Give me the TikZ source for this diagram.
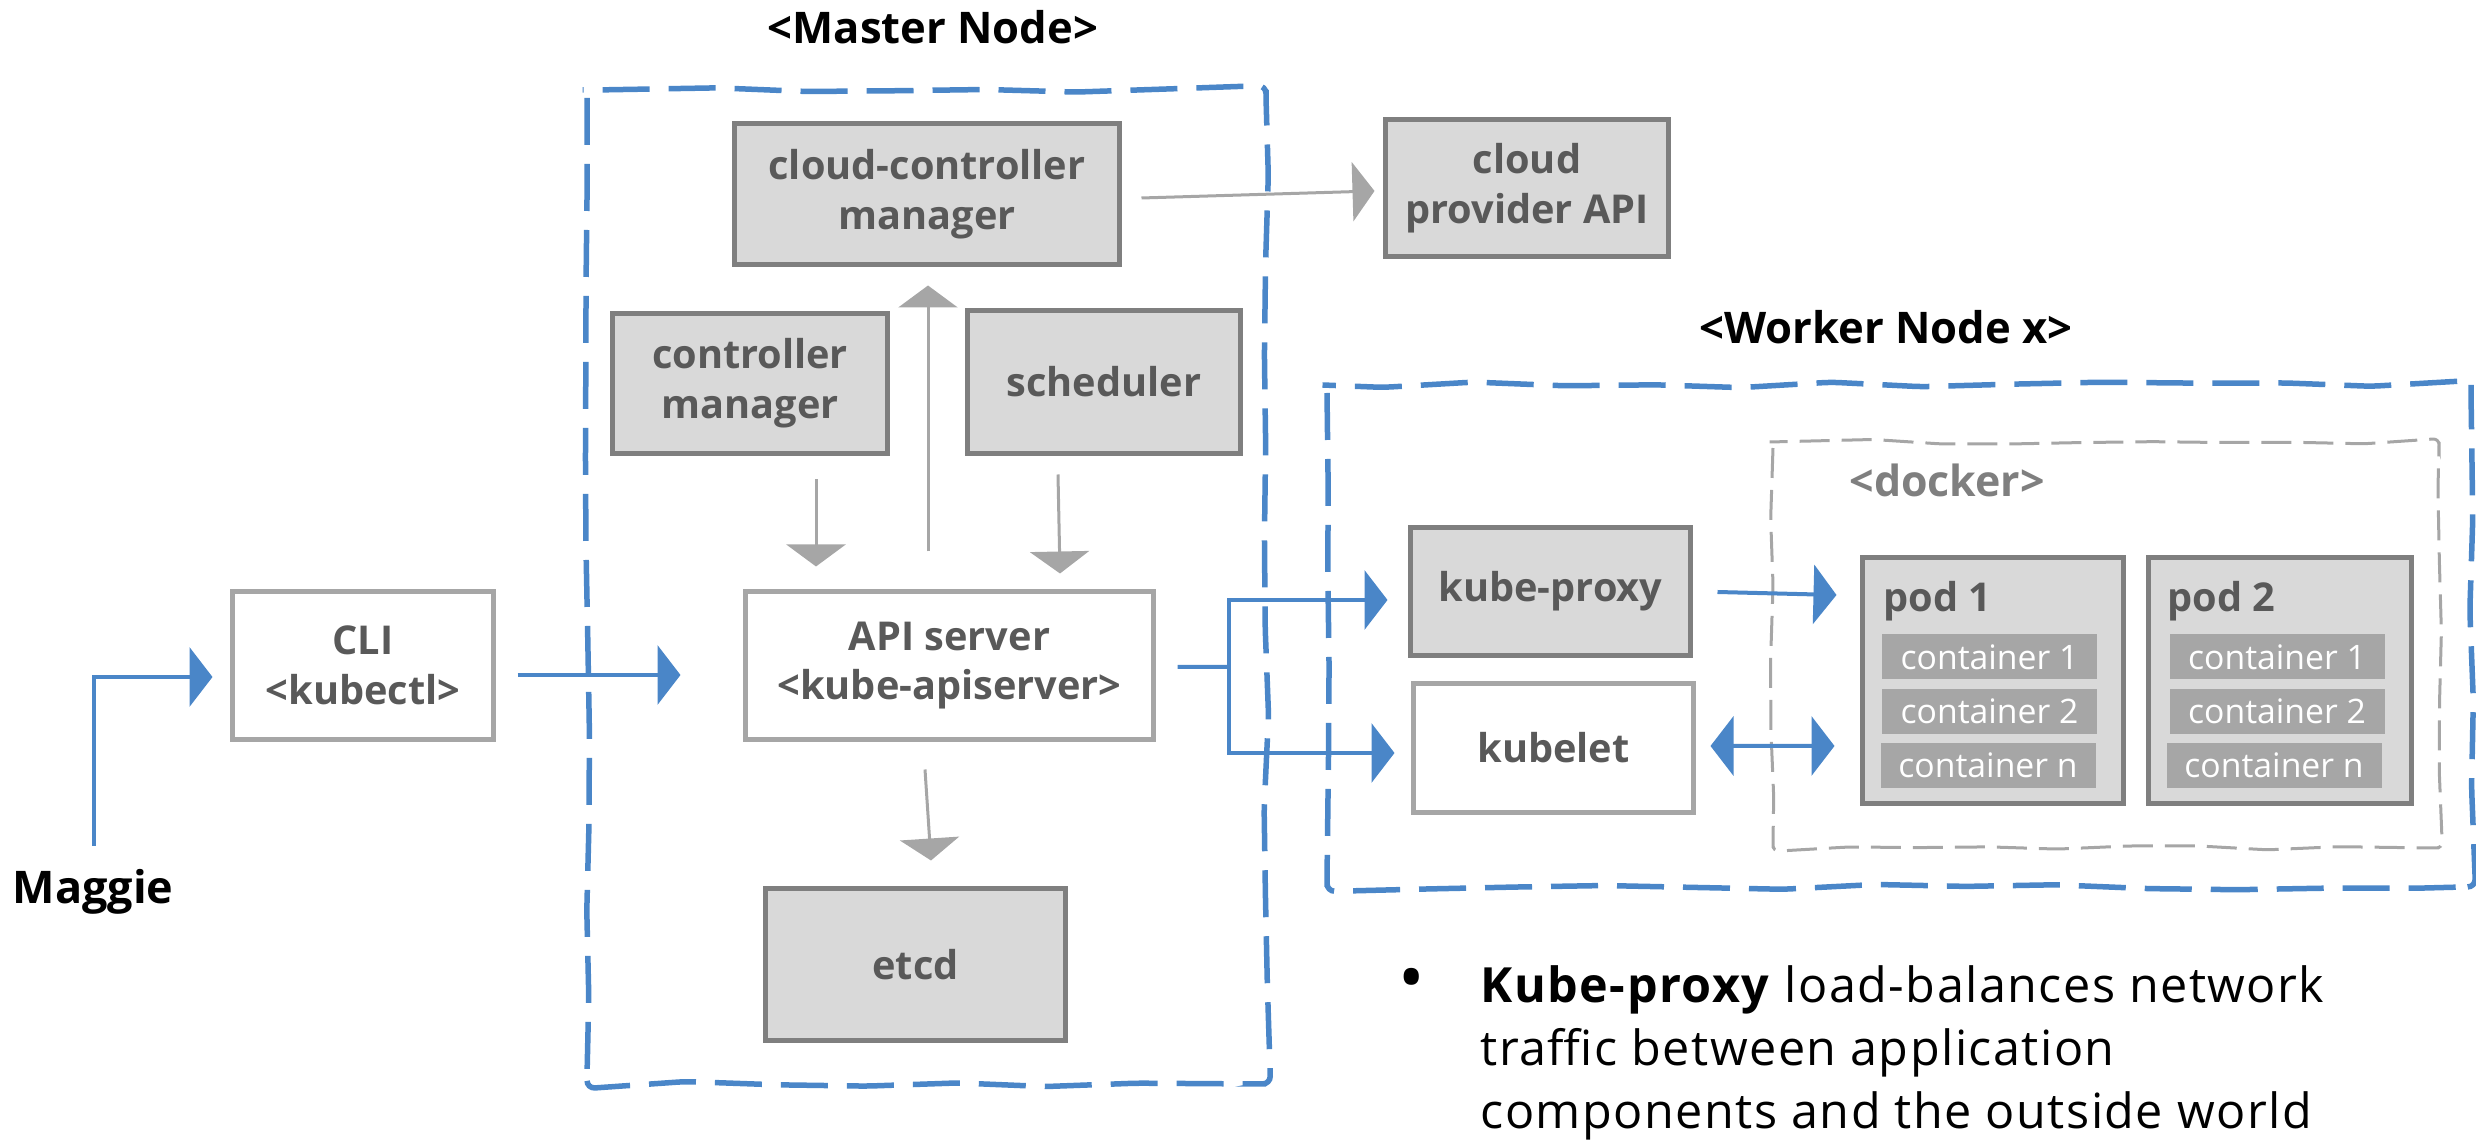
\documentclass[tikz,border=0pt]{standalone}
\usepackage{fontspec}
\setmainfont{Open Sans}
\newcommand\semib{\bfseries}
\usetikzlibrary{arrows.meta,calc,decorations.pathmorphing}
\definecolor{kblue}{RGB}{74,134,200}
\definecolor{boxgray}{RGB}{217,217,217}
\definecolor{darkedge}{RGB}{127,127,127}
\definecolor{lightedge}{RGB}{166,166,166}
\definecolor{txtgray}{RGB}{89,89,89}
\newcommand\boxfont{\semib\fontsize{11.3}{14.2}\selectfont}
\newcommand\contfont{\fontsize{9.6}{11}\selectfont}
\newcommand\titlefont{\bfseries\fontsize{12.4}{14}\selectfont}
\newcommand\bulfont{\fontsize{13.8}{16}\selectfont\addfontfeature{LetterSpace=3}}
\pgfmathsetseed{11}
\begin{document}
\begin{tikzpicture}[x=0.1mm,y=-0.1mm,
  gbox/.style={draw=darkedge,fill=boxgray,line width=0.5mm,inner sep=0pt,text=txtgray,font=\boxfont,align=center},
  wbox/.style={draw=lightedge,fill=white,line width=0.5mm,inner sep=0pt,text=txtgray,font=\boxfont,align=center},
  cont/.style={fill=lightedge,text=white,font=\contfont,inner sep=0pt,minimum width=21.5mm,minimum height=4.5mm},
  garrow/.style={draw=lightedge,line width=0.3mm,-{Triangle[width=5.9mm,length=2.2mm]}},
  barrow/.style={draw=kblue,line width=0.4mm,-{Triangle[width=5.9mm,length=2.3mm]}},
  bline/.style={draw=kblue,line width=0.4mm},
  bluedash/.style={draw=kblue,line width=0.55mm,dash pattern=on 4.7mm off 1.9mm,
    decorate,decoration={random steps,segment length=9mm,amplitude=0.3mm},rounded corners=0.8mm},
  graydash/.style={draw=lightedge,line width=0.3mm,dash pattern=on 3mm off 1.2mm,
    decorate,decoration={random steps,segment length=7mm,amplitude=0.25mm},rounded corners=0.6mm}]
\useasboundingbox (0,0) rectangle (2476,1140);

% dashed containers
\draw[bluedash] (587,90) rectangle (1266,1084);
\draw[bluedash] (1327,385) rectangle (2471,887);
\draw[graydash] (1773,442) rectangle (2439,848);

% titles
\node[font=\titlefont,anchor=base] (mlabel) at (933,44) {<Master Node>};
\node[font=\titlefont,anchor=base] (wlabel) at (1886,344) {<Worker Node x>};
\node[font=\bfseries\fontsize{12.8}{14}\selectfont,anchor=base west,inner sep=0pt] (maggie) at (12,904) {Maggie};
\node[font=\semib\fontsize{12.2}{14}\selectfont,text=darkedge,anchor=base west,inner sep=0pt] (dlabel) at (1849,497) {<docker>};

% master components
\node[gbox,minimum width=38.5mm,minimum height=14.1mm] (cc) at (927,194) {cloud-controller\\manager};
\node[gbox,minimum width=28.3mm,minimum height=13.7mm] (cp) at (1527,188) {cloud\\provider API};
\node[gbox,minimum width=27.5mm,minimum height=14.0mm] (cm) at (750,383.5) {controller\\manager};
\node[gbox,minimum width=27.3mm,minimum height=14.3mm] (sch) at (1104,382) {scheduler};
\node[wbox,minimum width=40.8mm,minimum height=14.8mm] (api) at (949.5,665.5) {API server\\<kube-apiserver>};
\node[gbox,minimum width=30.0mm,minimum height=15.2mm] (etcd) at (915.5,964.5) {etcd};
\node[wbox,minimum width=26.1mm,minimum height=14.8mm] (cli) at (363,665.5) {CLI\\<kubectl>};

% worker components
\node[gbox,minimum width=28.0mm,minimum height=12.8mm] (kp) at (1550.5,591.5) {kube-proxy};
\node[wbox,minimum width=28.0mm,minimum height=12.9mm] (kl) at (1553.5,748) {kubelet};
\node[gbox,minimum width=26.1mm,minimum height=24.6mm] (pod1) at (1993,680.5) {};
\node[gbox,minimum width=26.3mm,minimum height=24.6mm] (pod2) at (2280,680.5) {};
\node[font=\boxfont,text=txtgray,anchor=base west,inner sep=0pt] (p1label) at (1883,612) {pod 1};
\node[font=\boxfont,text=txtgray,anchor=base west,inner sep=0pt] (p2label) at (2167,612) {pod 2};
\node[cont] (c11) at (1989.5,657) {container 1};
\node[cont] (c12) at (1989.5,711.5) {container 2};
\node[cont] (c1n) at (1988,765.5) {container n};
\node[cont] (c21) at (2277,657) {container 1};
\node[cont] (c22) at (2277,711.5) {container 2};
\node[cont] (c2n) at (2274,765.5) {container n};

% gray connectors
\draw[garrow] ($(cc.east)+(19.5,4)$) -- ($(cp.west)+(-8.5,3)$);
\draw[garrow] ($(api.north)+(-21.5,-37.5)$) -- ($(cc.south)+(1,18.5)$);
\draw[garrow] ($(cm.south)+(66,23.5)$) -- ($(api.north)+(-133.5,-22.5)$);
\draw[garrow] ($(sch.south)+(-46,18.5)$) -- ($(api.north)+(110.5,-15.5)$);
\draw[garrow] ($(api.south)+(-24.5,27.5)$) -- ($(etcd.north)+(15.5,-25.5)$);

% blue connectors
\coordinate (mag0) at (94,846);
\draw[barrow] (mag0) |- ($(cli.west)+(-17.5,11.5)$);
\draw[barrow] ($(cli.east)+(21.5,9.5)$) -- ($(api.west)+(-62.5,9.5)$);
\coordinate (junc) at (1229,667);
\draw[bline] ($(api.east)+(21.5,1.5)$) -- (junc);
\draw[barrow] (junc) |- ($(kp.west)+(-20.5,8.5)$);
\draw[barrow] (junc) |- ($(kl.west)+(-16.5,5)$);
\draw[barrow] ($(kp.east)+(24.5,0.5)$) -- ($(pod1.west)+(-23.5,-85.5)$);
\draw[draw=kblue,line width=0.4mm,{Triangle[width=5.9mm,length=2.3mm]}-{Triangle[width=5.9mm,length=2.3mm]}]
  ($(kl.east)+(14.5,-2)$) -- ($(pod1.west)+(-25.5,65.5)$);

% bullet text
\node[font=\fontsize{20}{20}\selectfont,anchor=base,inner sep=0pt] (bullet) at (1412,1003) {•};
\node[font=\bulfont,anchor=base west,inner sep=0pt] (b1) at (1480,1003) {\textbf{Kube-proxy} load-balances network};
\node[font=\bulfont,anchor=base west,inner sep=0pt] (b2) at (1480,1066) {traffic between application};
\node[font=\bulfont,anchor=base west,inner sep=0pt] (b3) at (1480,1129) {components and the outside world};
\end{tikzpicture}
\end{document}
